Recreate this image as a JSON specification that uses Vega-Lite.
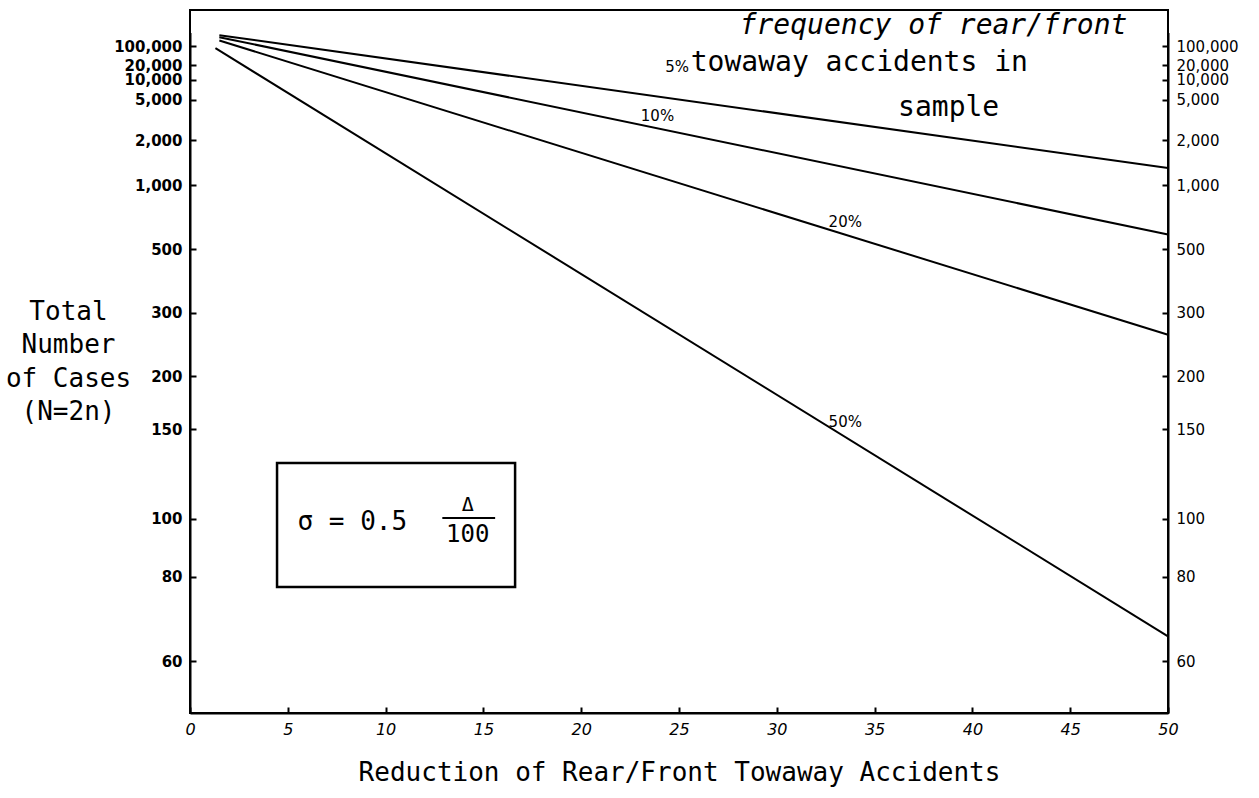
{
  "$schema": "https://vega.github.io/schema/vega-lite/v6.json",
  "width": 978,
  "height": 703,
  "autosize": {"type": "none"},
  "padding": {"left": 190, "top": 10, "right": 91, "bottom": 85},
  "background": "white",
  "config": {
    "view": {"stroke": "black", "strokeWidth": 2},
    "axis": {
      "grid": false,
      "domainColor": "black",
      "domainWidth": 2,
      "tickColor": "black",
      "tickWidth": 2,
      "tickSize": -6,
      "labelColor": "black",
      "labelFont": "DejaVu Sans",
      "labelFontSize": 15,
      "labelFontWeight": "bold",
      "labelPadding": 14,
      "labelOverlap": false,
      "labelBound": false,
      "labelFlush": false,
      "titleColor": "black",
      "titleFont": "DejaVu Sans Mono",
      "titleFontSize": 26,
      "titleFontWeight": "normal"
    }
  },
  "datasets": {
    "lines": [
      {"d": 1.5, "n": 1300000, "p": "5%"},
      {"d": 50, "n": 1270, "p": "5%"},
      {"d": 1.5, "n": 620000, "p": "10%"},
      {"d": 50, "n": 575, "p": "10%"},
      {"d": 1.5, "n": 260000, "p": "20%"},
      {"d": 50, "n": 258, "p": "20%"},
      {"d": 1.3, "n": 80000, "p": "50%"},
      {"d": 50, "n": 65, "p": "50%"}
    ],
    "plabels": [
      {"d": 24.9, "n": 18000, "t": "5%"},
      {"d": 23.9, "n": 3300, "t": "10%"},
      {"d": 33.5, "n": 653, "t": "20%"},
      {"d": 33.5, "n": 156, "t": "50%"}
    ],
    "legenditalic": [
      {"d": 28.1, "n": 10000000, "t": "frequency of rear/front"}
    ],
    "legendtext": [
      {"d": 25.6, "n": 23260, "t": "towaway accidents in"},
      {"d": 36.2, "n": 4016, "t": "sample"}
    ],
    "box": [{"d": 4.45, "d2": 16.62, "n": 127.6, "n2": 77.0}],
    "boxtext": [
      {"d": 8.3, "n": 98.8, "t": "σ = 0.5", "size": 26},
      {"d": 14.2, "n": 106, "t": "Δ", "size": 20},
      {"d": 14.2, "n": 93.75, "t": "100", "size": 24}
    ],
    "fracline": [{"d": 12.9, "d2": 15.6, "n": 100.4}]
  },
  "resolve": {"axis": {"y": "independent"}},
  "layer": [
    {
      "data": {"name": "lines"},
      "mark": {"type": "line", "color": "black", "strokeWidth": 2},
      "encoding": {
        "x": {
          "field": "d", "type": "quantitative",
          "scale": {"domain": [0, 50], "nice": false, "zero": false},
          "axis": {
            "values": [0, 5, 10, 15, 20, 25, 30, 35, 40, 45, 50],
            "labelFontStyle": "italic",
            "labelFontWeight": "normal",
            "labelFontSize": 16,
            "title": "Reduction of Rear/Front Towaway Accidents",
            "titlePadding": 22
          }
        },
        "y": {
          "field": "n", "type": "quantitative",
          "scale": {"type": "pow", "exponent": -0.5, "domain": [51.2, 10000000], "range": [703, 22.5], "nice": false, "zero": false},
          "axis": {
            "orient": "left",
            "values": [60, 80, 100, 150, 200, 300, 500, 1000, 2000, 5000, 10000, 20000, 100000],
            "format": ",.0f",
            "title": ["Total", "Number", "of Cases", "(N=2n)"],
            "titleAngle": 0,
            "titleAlign": "center",
            "titleBaseline": "top",
            "titleX": -122,
            "titleY": 288,
            "titleLineHeight": 33.5
          }
        },
        "detail": {"field": "p"}
      }
    },
    {
      "data": {"name": "plabels"},
      "mark": {"type": "text", "font": "DejaVu Sans", "fontSize": 15, "color": "black", "align": "center", "baseline": "middle"},
      "encoding": {
        "x": {"field": "d", "type": "quantitative"},
        "y": {
          "field": "n", "type": "quantitative",
          "scale": {"type": "pow", "exponent": -0.5, "domain": [51.2, 10000000], "range": [703, 22.5], "nice": false, "zero": false},
          "axis": {
            "orient": "right",
            "values": [60, 80, 100, 150, 200, 300, 500, 1000, 2000, 5000, 10000, 20000, 100000],
            "format": ",.0f",
            "labelFontWeight": "normal",
            "title": null
          }
        },
        "text": {"field": "t"}
      }
    },
    {
      "data": {"name": "legenditalic"},
      "mark": {"type": "text", "font": "DejaVu Sans Mono", "fontSize": 28, "fontStyle": "italic", "color": "black", "align": "left", "baseline": "middle", "dy": -7},
      "encoding": {
        "x": {"field": "d", "type": "quantitative"},
        "y": {"field": "n", "type": "quantitative", "axis": null},
        "text": {"field": "t"}
      }
    },
    {
      "data": {"name": "legendtext"},
      "mark": {"type": "text", "font": "DejaVu Sans Mono", "fontSize": 28, "color": "black", "align": "left", "baseline": "middle"},
      "encoding": {
        "x": {"field": "d", "type": "quantitative"},
        "y": {"field": "n", "type": "quantitative", "axis": null},
        "text": {"field": "t"}
      }
    },
    {
      "data": {"name": "box"},
      "mark": {"type": "rect", "filled": false, "stroke": "black", "strokeWidth": 2.5},
      "encoding": {
        "x": {"field": "d", "type": "quantitative"},
        "x2": {"field": "d2"},
        "y": {"field": "n", "type": "quantitative", "axis": null},
        "y2": {"field": "n2"}
      }
    },
    {
      "data": {"name": "boxtext"},
      "mark": {"type": "text", "font": "DejaVu Sans Mono", "color": "black", "align": "center", "baseline": "middle"},
      "encoding": {
        "x": {"field": "d", "type": "quantitative"},
        "y": {"field": "n", "type": "quantitative", "axis": null},
        "text": {"field": "t"},
        "size": {"field": "size", "type": "quantitative", "scale": null}
      }
    },
    {
      "data": {"name": "fracline"},
      "mark": {"type": "rule", "color": "black", "strokeWidth": 2},
      "encoding": {
        "x": {"field": "d", "type": "quantitative"},
        "x2": {"field": "d2"},
        "y": {"field": "n", "type": "quantitative", "axis": null}
      }
    }
  ]
}
